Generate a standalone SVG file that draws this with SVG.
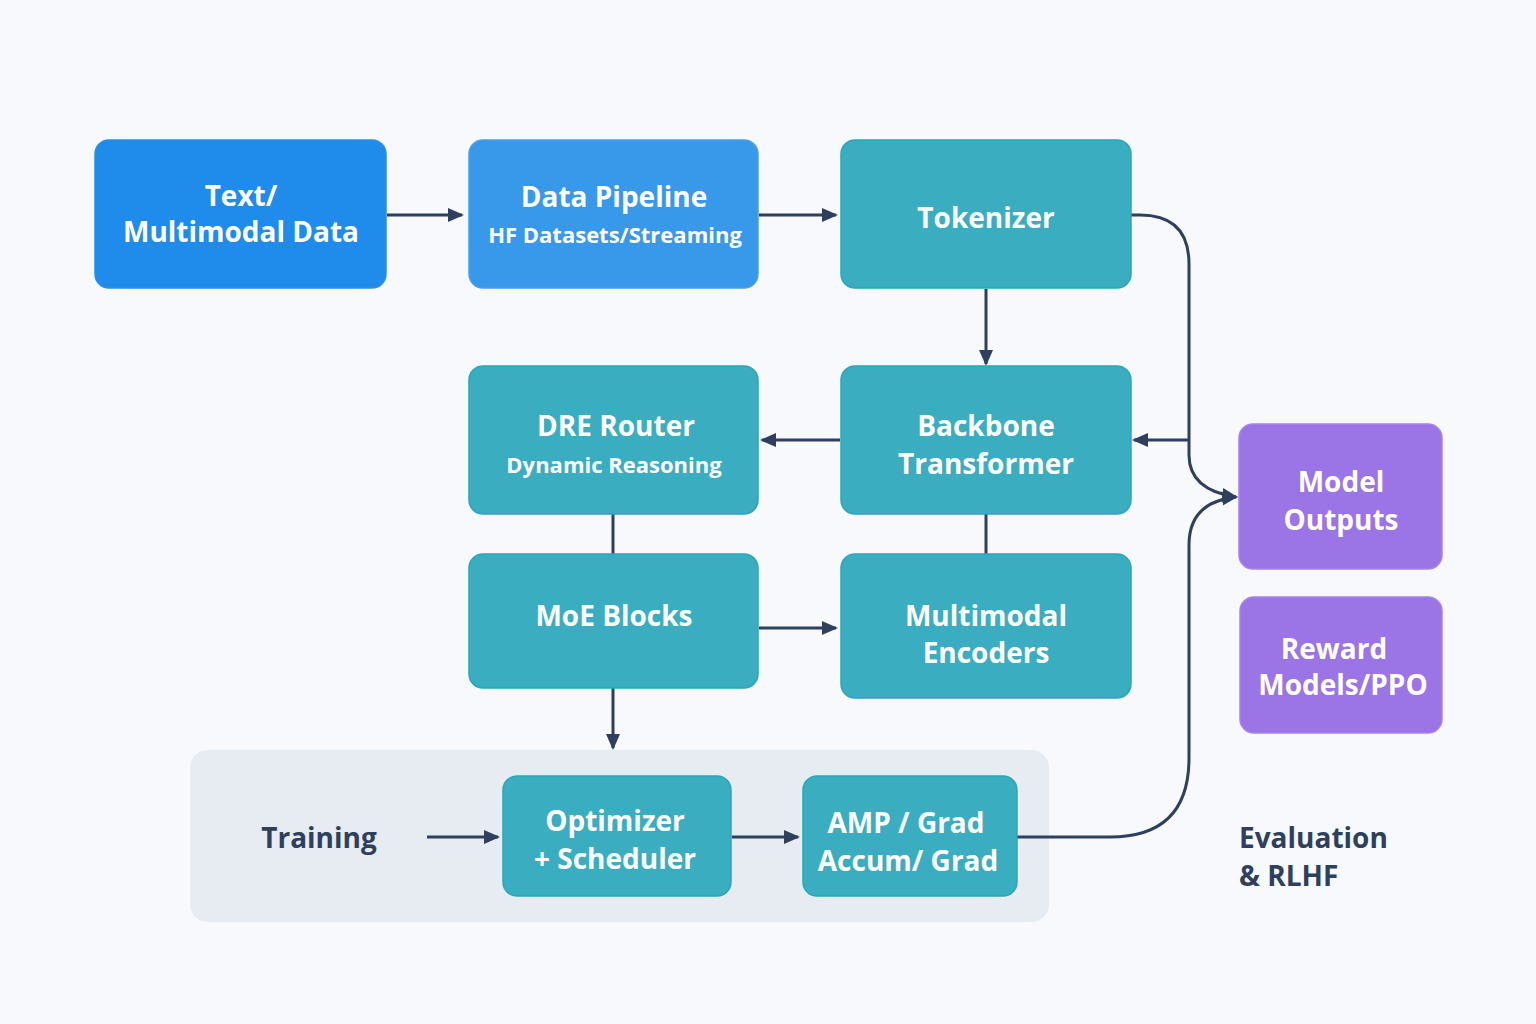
<svg xmlns="http://www.w3.org/2000/svg" width="1536" height="1024" viewBox="0 0 1536 1024">
<defs>
<marker id="ah" markerWidth="16" markerHeight="16" refX="14" refY="8" orient="auto" markerUnits="userSpaceOnUse" viewBox="0 0 16 16">
<path d="M0,1 L16,8 L0,15 Z" fill="#2f3f5e"/>
</marker>
<style>
.n{stroke-width:1.5}
.blue1{fill:#1f8bea;stroke:#2a8fe8}
.blue2{fill:#3898ea;stroke:#4a9eea}
.teal{fill:#3aaec0;stroke:#2aa7ba}
.purp{fill:#9b74e6;stroke:#a582ec}
.t{font-family:"Open Sans","Noto Sans",sans-serif;font-weight:700;fill:#ffffff;text-anchor:middle;dominant-baseline:central}
.big{font-size:28px}
.small{font-size:22px}
.dark{font-family:"Open Sans","Noto Sans",sans-serif;font-weight:700;fill:#2f3f5e;font-size:28px;dominant-baseline:central}
.c{fill:none;stroke:#2f3f5e;stroke-width:3}
</style>
</defs>
<rect width="1536" height="1024" fill="#f7f9fc"/>
<g id="training-group">
<rect x="190" y="750" width="859" height="172" rx="18" fill="#e6ecf1"/>
<text class="dark" x="319" y="837" text-anchor="middle">Training</text>
</g>
<g id="connectors">
<line class="c" x1="387" y1="215" x2="462" y2="215" marker-end="url(#ah)"/>
<line class="c" x1="759" y1="215" x2="836" y2="215" marker-end="url(#ah)"/>
<line class="c" x1="986" y1="289" x2="986" y2="364" marker-end="url(#ah)"/>
<line class="c" x1="840" y1="440" x2="762" y2="440" marker-end="url(#ah)"/>
<path class="c" d="M1131,215 L1140,215 Q1189,215 1189,264 L1189,455 Q1189,490 1236,497" marker-end="url(#ah)"/>
<line class="c" x1="1189" y1="440" x2="1134" y2="440" marker-end="url(#ah)"/>
<path class="c" d="M1017,837 L1110,837 Q1189,837 1189,758 L1189,545 Q1189,502 1236,497" marker-end="url(#ah)"/>
<line class="c" x1="613" y1="514" x2="613" y2="554"/>
<line class="c" x1="986" y1="514" x2="986" y2="554"/>
<line class="c" x1="759" y1="628" x2="836" y2="628" marker-end="url(#ah)"/>
<line class="c" x1="613" y1="688" x2="613" y2="748" marker-end="url(#ah)"/>
<line class="c" x1="427" y1="837" x2="498" y2="837" marker-end="url(#ah)"/>
<line class="c" x1="732" y1="837" x2="798" y2="837" marker-end="url(#ah)"/>
</g>
<g id="text-data">
<rect class="n blue1" x="95" y="140" width="291" height="148" rx="14"/>
<text class="t big" x="241" y="195">Text/</text>
<text class="t big" x="241" y="231">Multimodal Data</text>
</g>
<g id="data-pipeline">
<rect class="n blue2" x="469" y="140" width="289" height="148" rx="14"/>
<text class="t big" x="614" y="196">Data Pipeline</text>
<text class="t small" x="615" y="234">HF Datasets/Streaming</text>
</g>
<g id="tokenizer">
<rect class="n teal" x="841" y="140" width="290" height="148" rx="14"/>
<text class="t big" x="986" y="217">Tokenizer</text>
</g>
<g id="dre-router">
<rect class="n teal" x="469" y="366" width="289" height="148" rx="14"/>
<text class="t big" x="616" y="425">DRE Router</text>
<text class="t small" x="614" y="464">Dynamic Reasoning</text>
</g>
<g id="backbone">
<rect class="n teal" x="841" y="366" width="290" height="148" rx="14"/>
<text class="t big" x="986" y="425">Backbone</text>
<text class="t big" x="986" y="463">Transformer</text>
</g>
<g id="moe-blocks">
<rect class="n teal" x="469" y="554" width="289" height="134" rx="14"/>
<text class="t big" x="614" y="615">MoE Blocks</text>
</g>
<g id="multimodal-encoders">
<rect class="n teal" x="841" y="554" width="290" height="144" rx="14"/>
<text class="t big" x="986" y="615">Multimodal</text>
<text class="t big" x="986" y="652">Encoders</text>
</g>
<g id="model-outputs">
<rect class="n purp" x="1239" y="424" width="203" height="145" rx="14"/>
<text class="t big" x="1341" y="481">Model</text>
<text class="t big" x="1341" y="519">Outputs</text>
</g>
<g id="reward-models">
<rect class="n purp" x="1240" y="597" width="202" height="136" rx="14"/>
<text class="t big" x="1334" y="648">Reward</text>
<text class="t big" x="1343" y="684">Models/PPO</text>
</g>
<g id="optimizer">
<rect class="n teal" x="503" y="776" width="228" height="120" rx="14"/>
<text class="t big" x="615" y="820">Optimizer</text>
<text class="t big" x="615" y="858">+ Scheduler</text>
</g>
<g id="amp-grad">
<rect class="n teal" x="803" y="776" width="214" height="120" rx="14"/>
<text class="t big" x="906" y="822">AMP / Grad</text>
<text class="t big" x="908" y="860">Accum/ Grad</text>
</g>
<g id="evaluation-label">
<text class="dark" x="1239" y="837">Evaluation</text>
<text class="dark" x="1239" y="875">&amp; RLHF</text>
</g>
</svg>
